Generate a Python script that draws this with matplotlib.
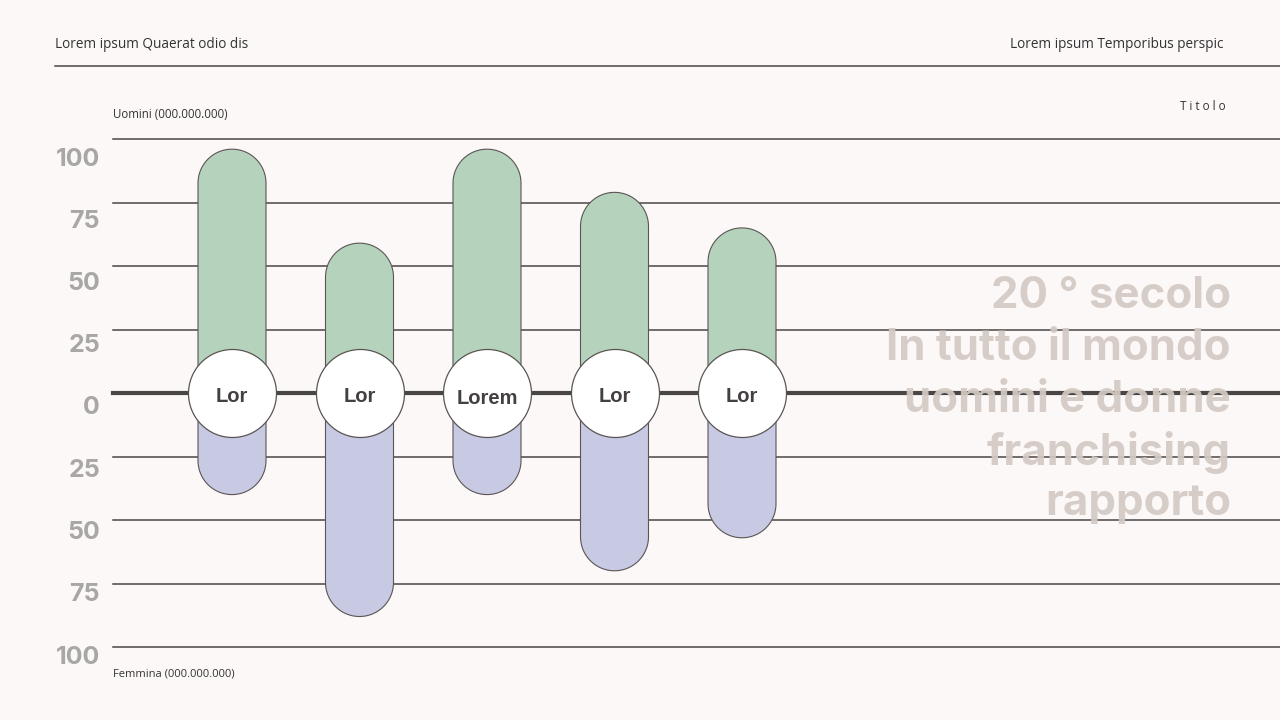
import matplotlib
matplotlib.use("Agg")
import matplotlib.pyplot as plt
from matplotlib.path import Path
from matplotlib.patches import PathPatch
import matplotlib.transforms as mtransforms
import numpy as np

categories = ["Lor", "Lor", "Lorem", "Lor", "Lor"]
uomini = [96, 59, 96, 79, 65]
femmine = [40, 88, 40, 70, 57]
tick_values = [100, 75, 50, 25, 0, -25, -50, -75, -100]
tick_labels = ["100", "75", "50", "25", "0", "25", "50", "75", "100"]

BG = "#FCF8F7"
GREEN = "#B5D3BC"
LAV = "#C8CAE4"
EDGE = "#5A5555"
LINE = "#4A4646"
SMALL_FONT = ["Open Sans", "DejaVu Sans"]

plt.rcParams['font.family'] = ['Inter', 'DejaVu Sans']

W, H = 1280, 720
fig = plt.figure(figsize=(W / 100, H / 100), dpi=100, facecolor=BG)

# axes: x 113..1280 px, y 139..647 px
ax_l, ax_r = 113, 1280
ax_t, ax_b = 139, 647
ax = fig.add_axes([ax_l / W, 1 - ax_b / H, (ax_r - ax_l) / W, (ax_b - ax_t) / H])
ax.set_facecolor("none")
for s in ax.spines.values():
    s.set_visible(False)
ax.set_xticks([])
ax.set_yticks([])

px_per_cat = 127.5
x0_px = 232
xmin = -(x0_px - ax_l) / px_per_cat
xmax = (ax_r - x0_px) / px_per_cat
ax.set_xlim(xmin, xmax)
ax.set_ylim(-100, 100)

# grid lines
for v in tick_values:
    ax.axhline(v, color=LINE, lw=3 if v == 0 else 1.1, zorder=1, clip_on=False)

# capsule helper
px_per_y = (ax_b - ax_t) / 200.0
bar_w_px = 68
half_w = bar_w_px / 2 / px_per_cat
ry = (bar_w_px / 2) / px_per_y


def capsule(xc, y_base, y_end, color):
    sign = 1 if y_end > y_base else -1
    y_arc = y_end - sign * ry
    theta = np.linspace(0, np.pi, 40)
    arc_x = xc + half_w * np.cos(theta)
    arc_y = y_arc + sign * ry * np.sin(theta)
    verts = [(xc + half_w, y_base), (xc + half_w, y_arc)]
    verts += list(zip(arc_x, arc_y))
    verts += [(xc - half_w, y_base), (xc + half_w, y_base)]
    codes = [Path.MOVETO] + [Path.LINETO] * (len(verts) - 2) + [Path.CLOSEPOLY]
    p = PathPatch(Path(verts, codes), facecolor=color, edgecolor=EDGE, lw=0.8, zorder=2)
    ax.add_patch(p)


for i, (u, f) in enumerate(zip(uomini, femmine)):
    capsule(i, 0, u, GREEN)
    capsule(i, 0, -f, LAV)

# circles
xs = np.arange(len(categories))
diam_pt = 88 * 72 / 100
ax.scatter(xs, np.zeros(len(xs)), s=diam_pt ** 2, facecolor="white", edgecolor=EDGE,
           linewidth=0.9, zorder=4)
for i, c in enumerate(categories):
    ax.text(i, -2.0 if c == "Lorem" else -1.3, c, ha="center", va="center", fontsize=14.5,
            fontweight="bold", color="#444040", zorder=5,
            family=["Liberation Sans", "DejaVu Sans"])

# y labels
for v, lab in zip(tick_values, tick_labels):
    dy = -(15 + v / 100 * 5)
    off = mtransforms.offset_copy(ax.transData, fig=fig, x=-13, y=dy, units="dots")
    ax.text(xmin, v, lab, transform=off, ha="right", va="center", fontsize=18,
            fontweight="bold", color="#A9A6A6", clip_on=False)

# header
fig.text(55 / W, 1 - 44 / H, "Lorem ipsum Quaerat odio dis", ha="left", va="center",
         fontsize=9.8, color="#333333", family=SMALL_FONT)
fig.text(1224 / W, 1 - 44 / H, "Lorem ipsum Temporibus perspic", ha="right", va="center",
         fontsize=9.8, color="#333333", family=SMALL_FONT)
fig.add_artist(plt.Line2D([55 / W, 1.0], [1 - 66 / H, 1 - 66 / H], color=LINE, lw=1.1))
fig.text(1226 / W, 1 - 106 / H, "T i t o l o", ha="right", va="center", fontsize=8.4,
         color="#333333", family=SMALL_FONT)

fig.text(113 / W, 1 - 115 / H, "Uomini (000.000.000)", ha="left", va="center",
         fontsize=8.3, color="#333333", family=SMALL_FONT)
fig.text(113 / W, 1 - 674 / H, "Femmina (000.000.000)", ha="left", va="center",
         fontsize=8, color="#333333", family=SMALL_FONT)

# big title
title_lines = ["20 ° secolo", "In tutto il mondo", "uomini e donne", "franchising", "rapporto"]
for k, t in enumerate(title_lines):
    fig.text(1231 / W, 1 - (297 + 51.7 * k) / H, t, ha="right", va="center", fontsize=31.5,
             fontweight="bold", color="#D4CAC4", alpha=0.92, zorder=10)

fig.savefig("out.png", dpi=100, facecolor=BG)
